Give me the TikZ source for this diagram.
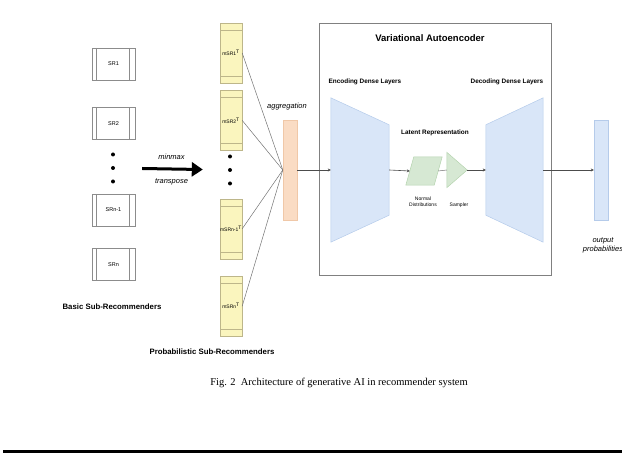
\documentclass[tikz,border=0pt]{standalone}
\usepackage{fontspec}
\setmainfont{Liberation Sans}
\newfontfamily\capfont{Liberation Serif}
\usetikzlibrary{arrows.meta,positioning,calc}
\definecolor{srgray}{HTML}{8C8C8C}
\definecolor{msryellow}{HTML}{FAF5BE}
\definecolor{msredge}{HTML}{BDB68A}
\definecolor{aggorange}{HTML}{FADCC4}
\definecolor{aggedge}{HTML}{F0C8A8}
\definecolor{vaeblue}{HTML}{D9E6F8}
\definecolor{vaeedge}{HTML}{B5CBEA}
\definecolor{latgreen}{HTML}{D6E8D3}
\definecolor{latedge}{HTML}{B4D3AE}
\tikzset{
  srbox/.style={draw=srgray, fill=white, minimum width=43pt, minimum height=32pt, inner sep=0pt, font=\fontsize{5.5}{6}\selectfont,
    path picture={\draw[srgray] ([xshift=4.5pt]path picture bounding box.north west) -- ([xshift=4.5pt]path picture bounding box.south west);
      \draw[srgray] ([xshift=-5.5pt]path picture bounding box.north east) -- ([xshift=-5.5pt]path picture bounding box.south east);}},
  msrbox/.style={draw=msredge, fill=msryellow, minimum width=22pt, minimum height=60pt, inner sep=0pt, font=\fontsize{5}{5.5}\selectfont,
    path picture={\draw[msredge] ([yshift=-7pt]path picture bounding box.north west) -- ([yshift=-7pt]path picture bounding box.north east);
      \draw[msredge] ([yshift=7pt]path picture bounding box.south west) -- ([yshift=7pt]path picture bounding box.south east);}},
  dotcol/.style={minimum width=4pt, minimum height=30pt, inner sep=0pt},
  aggbar/.style={draw=aggedge, fill=aggorange, minimum width=14pt, minimum height=100pt, inner sep=0pt},
  outbar/.style={draw=vaeedge, fill=vaeblue, minimum width=14pt, minimum height=100pt, inner sep=0pt},
  vaeframe/.style={draw=black!50, line width=0.8pt, minimum width=232pt, minimum height=252pt, inner sep=0pt},
  hidden/.style={inner sep=0pt},
  layer/.style={draw=vaeedge, fill=vaeblue, line width=0.5pt},
  latent/.style={draw=latedge, fill=latgreen, line width=0.5pt},
  heading/.style={font=\bfseries\fontsize{7.8}{9}\selectfont},
  subhead/.style={font=\bfseries\fontsize{6.4}{7.5}\selectfont},
  vaehead/.style={font=\bfseries\fontsize{9.5}{11}\selectfont},
  note/.style={font=\itshape\fontsize{7.5}{9}\selectfont, align=center},
  minitext/.style={font=\fontsize{5}{6}\selectfont, align=center},
  link/.style={draw=black!55, line width=0.5pt},
  arrow/.style={-{Stealth[length=3pt,width=3pt]}, draw=black!70, line width=0.6pt},
  bigarrow/.style={-{Triangle[length=11pt,width=14pt]}, line width=3pt}
}

\begin{document}
\begin{tikzpicture}[x=1pt, y=-1pt]
  \useasboundingbox (0,0) rectangle (622,454);

  % basic sub-recommenders
  \node[srbox] (sr1) at (113.5,64) {SR1};
  \node[srbox, below=27pt of sr1] (sr2) {SR2};
  \node[dotcol] (sdots) at (113,168) {};
  \node[srbox, below=54pt of sr2] (srn1) {SRn-1};
  \node[srbox, below=22pt of srn1] (srn) {SRn};
  \node[heading] (basic) at (112,307) {Basic Sub-Recommenders};

  % probabilistic sub-recommenders
  \node[msrbox] (msr1) at (231,53) {mSR1\textsuperscript{T}};
  \node[msrbox, below=7pt of msr1] (msr2) {mSR2\textsuperscript{T}};
  \node[dotcol] (mdots) at (230,170) {};
  \node[msrbox, below=48pt of msr2] (msrn1) {mSRn-1\textsuperscript{T}};
  \node[msrbox, below=17pt of msrn1] (msrn) {mSRn\textsuperscript{T}};
  \node[heading] (prob) at (212,352) {Probabilistic Sub-Recommenders};

  \foreach \d in {-13.5,0,13.5} {
    \fill ([yshift=\d pt]sdots.center) circle (2pt);
    \fill ([yshift=\d pt]mdots.center) circle (2pt);
  }

  \draw[bigarrow, shorten <=27pt, shorten >=25pt] (sdots) -- node[note, above=5pt] {minmax} node[note, below=5pt] {transpose} (mdots);

  % aggregation
  \node[aggbar] (agg) at (290,170) {};
  \node[note] (aggtext) at (287,107) {aggregation};
  \foreach \m in {msr1,msr2,msrn1,msrn}
    \draw[link] (\m.east) -- (agg.west);

  % variational autoencoder
  \node[vaeframe] (vae) at (435,149) {};
  \node[vaehead] (vaetitle) at (430,38) {Variational Autoencoder};
  \node[subhead] (enctext) at (365,82) {Encoding Dense Layers};
  \node[subhead] (dectext) at (507,82) {Decoding Dense Layers};
  \node[subhead] (lattext) at (435,133) {Latent Representation};

  \node[hidden, minimum width=58pt, minimum height=144pt] (enc) at (360,170) {};
  \filldraw[layer] (enc.north west) -- ([yshift=-27pt]enc.north east) -- ([yshift=27pt]enc.south east) -- (enc.south west) -- cycle;
  \node[hidden, minimum width=57pt, minimum height=144pt] (dec) at (514.5,170) {};
  \filldraw[layer] ([yshift=-27pt]dec.north west) -- (dec.north east) -- (dec.south east) -- ([yshift=27pt]dec.south west) -- cycle;

  \node[hidden, minimum width=36pt, minimum height=28pt] (dist) at (424,171) {};
  \filldraw[latent] ([xshift=8pt]dist.north west) -- (dist.north east) -- ([xshift=-8pt]dist.south east) -- (dist.south west) -- cycle;
  \node[hidden, minimum width=20pt, minimum height=35pt] (samp) at (457,170) {};
  \filldraw[latent] (samp.north west) -- (samp.east) -- (samp.south west) -- cycle;
  \node[minitext] (disttext) at (423,202) {Normal\\Distributions};
  \node[minitext] (samptext) at (459,205) {Sampler};

  % output
  \node[outbar] (out) at (601,170) {};
  \node[note] (outtext) at (603,245) {output\\probabilities};

  \draw[arrow] (agg.east) -- (enc.west);
  \draw[arrow] (enc.east) -- ([xshift=4pt]dist.west);
  \draw[link] ([xshift=-4pt]dist.east) -- (samp.west);
  \draw[arrow] (samp.east) -- (dec.west);
  \draw[arrow] (dec.east) -- (out.west);

  % caption
  \node[font=\capfont\fontsize{10.5}{12}\selectfont] (caption) at (339,383) {Fig. 2\ \ Architecture of generative AI in recommender system};
  \draw[line width=3pt] (3,452) -- (622,452);
\end{tikzpicture}
\end{document}
